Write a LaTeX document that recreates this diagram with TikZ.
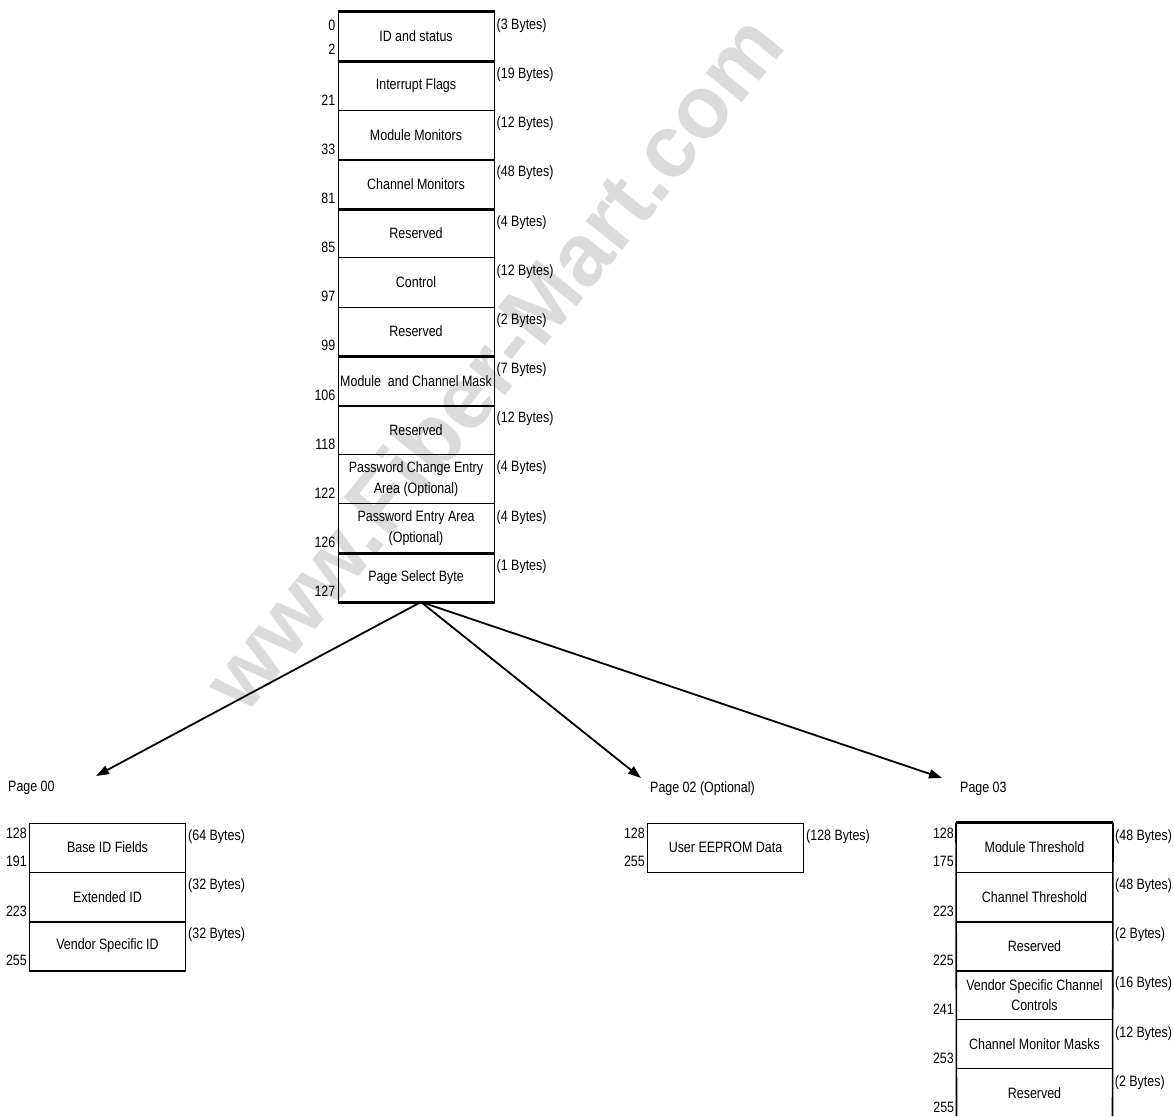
\documentclass[tikz,border=0pt]{standalone}
\usepackage{fontspec}
\setmainfont{Liberation Sans}[FakeStretch=0.83]
\newfontfamily\wmfont{Liberation Sans}
\usetikzlibrary{arrows.meta,calc}
\begin{document}
\begin{tikzpicture}[x=1pt,y=-1pt,
  lbl/.style={font=\fontsize{15}{20.5}\selectfont, inner sep=0pt},
  cell/.style={lbl, draw, line width=1pt, minimum width=156pt, minimum height=49.2pt, align=center},
  numl/.style={lbl, anchor=east},
  bytel/.style={lbl, anchor=west},
  heavy/.style={line width=2.6pt},
  side/.style={line width=1.6pt},
  arr/.style={line width=1.8pt, -{Triangle[length=13pt,width=9pt]}},
  wmark/.style={rotate=51, text=black!14, inner sep=0pt, font=\wmfont\bfseries\fontsize{88}{88}\selectfont}
]
\useasboundingbox (0,0) rectangle (1174,1116);
\node[wmark] (wm) at (492,362) {www.Fiber-Mart.com};

% ---------------- lower memory (main column) ----------------
\node[cell] (m1)  at (416,36.6)  {ID and status};
\node[cell] (m2)  at (416,85.8)  {Interrupt Flags};
\node[cell] (m3)  at (416,134.9) {Module Monitors};
\node[cell] (m4)  at (416,184.1) {Channel Monitors};
\node[cell] (m5)  at (416,233.3) {Reserved};
\node[cell] (m6)  at (416,282.4) {Control};
\node[cell] (m7)  at (416,331.6) {Reserved};
\node[cell] (m8)  at (416,380.8) {Module\ \ and Channel Mask};
\node[cell] (m9)  at (416,429.9) {Reserved};
\node[cell] (m10) at (416,479.1) {Password Change Entry\\Area (Optional)};
\node[cell] (m11) at (416,528.3) {Password Entry Area\\(Optional)};
\node[cell] (m12) at (416,577.4) {Page Select Byte};

\draw[heavy] (m1.north west) -- (m1.north east);
\draw[heavy] (m1.south west) -- (m1.south east);
\draw[heavy] (m3.south west) -- (m3.south east);
\draw[heavy] (m4.south west) -- (m4.south east);
\draw[heavy] (m7.south west) -- (m7.south east);
\draw[heavy] (m8.south west) -- (m8.south east);
\draw[heavy] (m11.south west) -- (m11.south east);
\draw[heavy] (m12.south west) -- (m12.south east);

\node[numl] (a0)   at ([xshift=-2pt,yshift=-14pt]m1.north west) {0};
\node[numl] (a2)   at ([xshift=-2pt,yshift=12pt]m1.south west) {2};
\node[numl] (a21)  at ([xshift=-2pt,yshift=11pt]m2.south west) {21};
\node[numl] (a33)  at ([xshift=-2pt,yshift=11pt]m3.south west) {33};
\node[numl] (a81)  at ([xshift=-2pt,yshift=11pt]m4.south west) {81};
\node[numl] (a85)  at ([xshift=-2pt,yshift=11pt]m5.south west) {85};
\node[numl] (a97)  at ([xshift=-2pt,yshift=11pt]m6.south west) {97};
\node[numl] (a99)  at ([xshift=-2pt,yshift=11pt]m7.south west) {99};
\node[numl] (a106) at ([xshift=-2pt,yshift=11pt]m8.south west) {106};
\node[numl] (a118) at ([xshift=-2pt,yshift=11pt]m9.south west) {118};
\node[numl] (a122) at ([xshift=-2pt,yshift=11pt]m10.south west) {122};
\node[numl] (a126) at ([xshift=-2pt,yshift=11pt]m11.south west) {126};
\node[numl] (a127) at ([xshift=-2pt,yshift=11pt]m12.south west) {127};

\node[bytel] (b1)  at ([xshift=2pt,yshift=-14pt]m1.north east)  {(3 Bytes)};
\node[bytel] (b2)  at ([xshift=2pt,yshift=-14pt]m2.north east)  {(19 Bytes)};
\node[bytel] (b3)  at ([xshift=2pt,yshift=-14pt]m3.north east)  {(12 Bytes)};
\node[bytel] (b4)  at ([xshift=2pt,yshift=-14pt]m4.north east)  {(48 Bytes)};
\node[bytel] (b5)  at ([xshift=2pt,yshift=-14pt]m5.north east)  {(4 Bytes)};
\node[bytel] (b6)  at ([xshift=2pt,yshift=-14pt]m6.north east)  {(12 Bytes)};
\node[bytel] (b7)  at ([xshift=2pt,yshift=-14pt]m7.north east)  {(2 Bytes)};
\node[bytel] (b8)  at ([xshift=2pt,yshift=-14pt]m8.north east)  {(7 Bytes)};
\node[bytel] (b9)  at ([xshift=2pt,yshift=-14pt]m9.north east)  {(12 Bytes)};
\node[bytel] (b10) at ([xshift=2pt,yshift=-14pt]m10.north east) {(4 Bytes)};
\node[bytel] (b11) at ([xshift=2pt,yshift=-14pt]m11.north east) {(4 Bytes)};
\node[bytel] (b12) at ([xshift=2pt,yshift=-14pt]m12.north east) {(1 Bytes)};

% ---------------- page labels and arrows ----------------
\node[lbl, anchor=west] (p0) at (8,788)   {Page 00};
\node[lbl, anchor=west] (p2) at (650,789) {Page 02 (Optional)};
\node[lbl, anchor=west] (p3) at (960,789) {Page 03};

\coordinate (src) at (421,602);
\coordinate (t0) at (96,776);
\coordinate (t2) at (641,778);
\coordinate (t3) at (942,778);
\draw[arr] (src) -- (t0);
\draw[arr] (src) -- (t2);
\draw[arr] (src) -- (t3);

% ---------------- Page 00 ----------------
\node[cell] (q1) at (107.5,847.6) {Base ID Fields};
\node[cell] (q2) at (107.5,896.8) {Extended ID};
\node[cell] (q3) at (107.5,945.9) {Vendor Specific ID};
\draw[heavy] (q2.south west) -- (q2.south east);
\draw[heavy] (q3.south west) -- (q3.south east);
\node[numl] (c128) at ([xshift=-2pt,yshift=-11pt]q1.north west) {128};
\node[numl] (c191) at ([xshift=-2pt,yshift=11pt]q1.south west) {191};
\node[numl] (c223) at ([xshift=-2pt,yshift=11pt]q2.south west) {223};
\node[numl] (c255) at ([xshift=-2pt,yshift=11pt]q3.south west) {255};
\node[bytel] (d1) at ([xshift=2pt,yshift=-14pt]q1.north east) {(64 Bytes)};
\node[bytel] (d2) at ([xshift=2pt,yshift=-14pt]q2.north east) {(32 Bytes)};
\node[bytel] (d3) at ([xshift=2pt,yshift=-14pt]q3.north east) {(32 Bytes)};

% ---------------- Page 02 ----------------
\node[cell] (r1) at (725.5,847.6) {User EEPROM Data};
\node[numl] (e128) at ([xshift=-2pt,yshift=-11pt]r1.north west) {128};
\node[numl] (e255) at ([xshift=-2pt,yshift=11pt]r1.south west) {255};
\node[bytel] (f1) at ([xshift=2pt,yshift=-14pt]r1.north east) {(128 Bytes)};

% ---------------- Page 03 ----------------
\node[cell] (s1) at (1034.5,847.6)  {Module Threshold};
\node[cell] (s2) at (1034.5,896.8)  {Channel Threshold};
\node[cell] (s3) at (1034.5,945.9)  {Reserved};
\node[cell] (s4) at (1034.5,995.1)  {Vendor Specific Channel\\Controls};
\node[cell] (s5) at (1034.5,1044.3) {Channel Monitor Masks};
\node[lbl, minimum width=156pt, minimum height=49.2pt] (s6) at (1034.5,1093.4) {Reserved};
\coordinate (s6bl) at (956.5,1116);
\coordinate (s6br) at (1112.5,1116);
\draw[line width=1pt] (s6.north west) -- (s6.north east);
\draw[side] (s1.north west) -- (s6bl);
\draw[side] (s1.north east) -- (s6br);
\draw[heavy] (s1.north west) -- (s1.north east);
\draw[heavy] (s2.south west) -- (s2.south east);
\draw[heavy] (s3.south west) -- (s3.south east);
\node[numl] (g128) at ([xshift=-2pt,yshift=-11pt]s1.north west) {128};
\node[numl] (g175) at ([xshift=-2pt,yshift=11pt]s1.south west) {175};
\node[numl] (g223) at ([xshift=-2pt,yshift=11pt]s2.south west) {223};
\node[numl] (g225) at ([xshift=-2pt,yshift=11pt]s3.south west) {225};
\node[numl] (g241) at ([xshift=-2pt,yshift=11pt]s4.south west) {241};
\node[numl] (g253) at ([xshift=-2pt,yshift=11pt]s5.south west) {253};
\node[numl] (g255) at ([xshift=-2pt,yshift=11pt]s6.south west) {255};
\node[bytel] (h1) at ([xshift=2pt,yshift=-14pt]s1.north east) {(48 Bytes)};
\node[bytel] (h2) at ([xshift=2pt,yshift=-14pt]s2.north east) {(48 Bytes)};
\node[bytel] (h3) at ([xshift=2pt,yshift=-14pt]s3.north east) {(2 Bytes)};
\node[bytel] (h4) at ([xshift=2pt,yshift=-14pt]s4.north east) {(16 Bytes)};
\node[bytel] (h5) at ([xshift=2pt,yshift=-14pt]s5.north east) {(12 Bytes)};
\node[bytel] (h6) at ([xshift=2pt,yshift=-14pt]s6.north east) {(2 Bytes)};
\end{tikzpicture}
\end{document}
